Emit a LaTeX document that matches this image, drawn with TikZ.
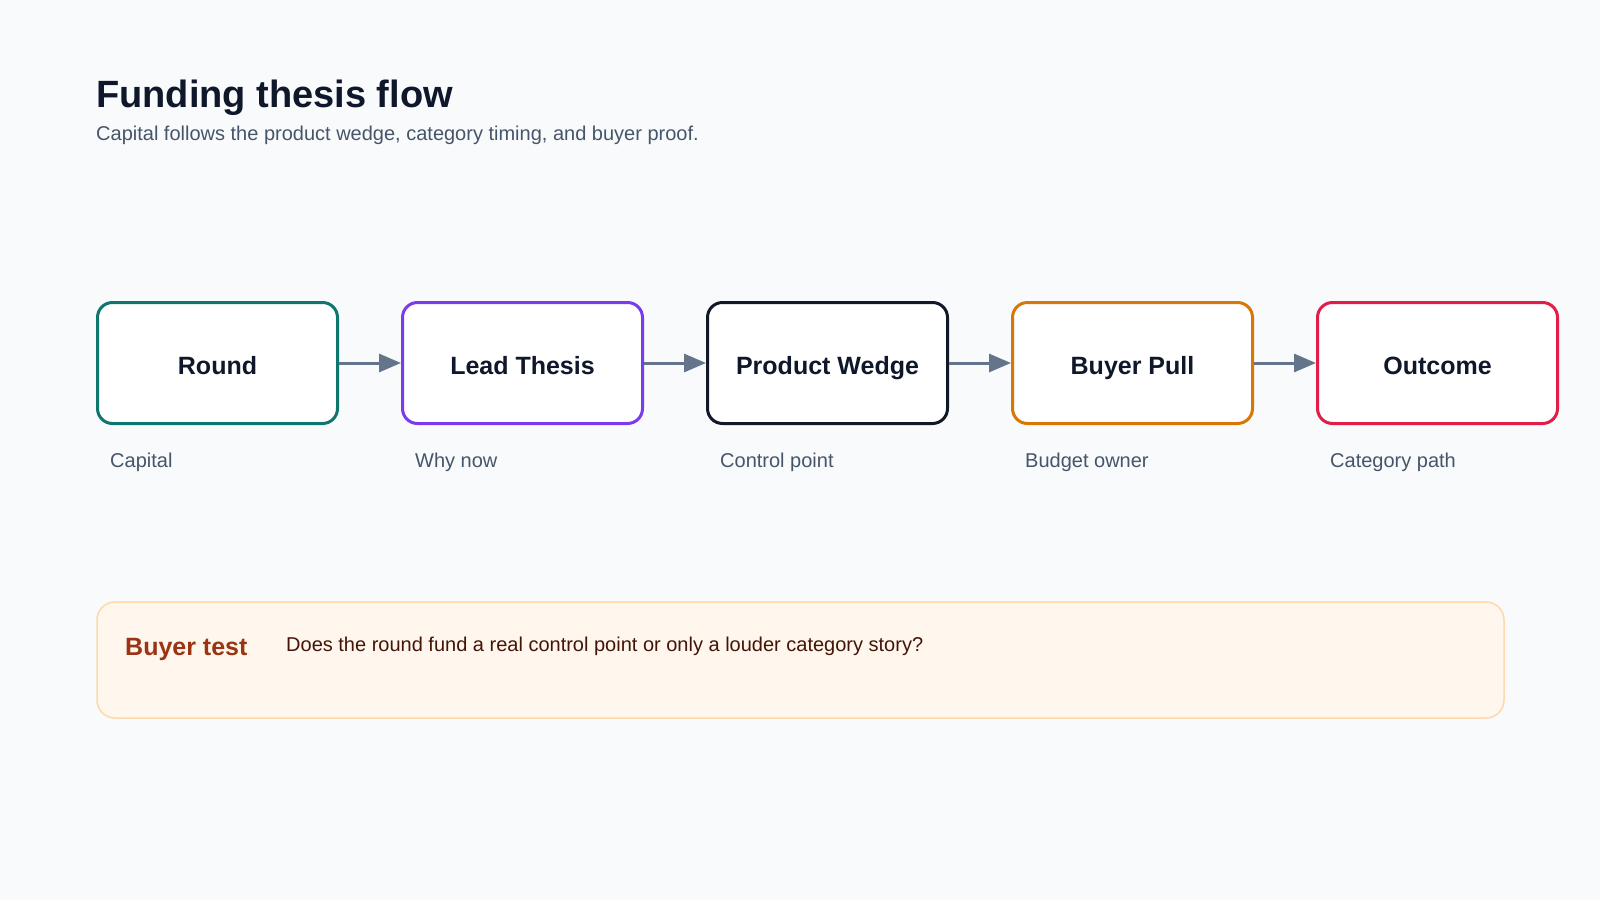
\documentclass[tikz,border=0pt]{standalone}
\usepackage{fontspec}
\setmainfont{Liberation Sans}
\usetikzlibrary{arrows.meta,positioning}

\definecolor{pagebg}{HTML}{F8FAFC}
\definecolor{inkdark}{HTML}{0F172A}
\definecolor{inksoft}{HTML}{475569}
\definecolor{arrowgray}{HTML}{64748B}
\definecolor{teal}{HTML}{0F766E}
\definecolor{violet}{HTML}{7C3AED}
\definecolor{nightink}{HTML}{111827}
\definecolor{amber}{HTML}{D97706}
\definecolor{rose}{HTML}{E11D48}
\definecolor{calloutfill}{HTML}{FFF7ED}
\definecolor{calloutline}{HTML}{FED7AA}
\definecolor{rust}{HTML}{9A3412}
\definecolor{brownink}{HTML}{431407}

\begin{document}
\begin{tikzpicture}[
    x=1pt, y=-1pt,
    node distance=62pt,
    >={Triangle[length=22pt,width=18pt]},
    stage/.style={draw, fill=white, line width=3pt, rounded corners=15pt, align=center, minimum width=240pt, minimum height=121pt, inner sep=0pt, text height=23pt, text depth=0pt, text=inkdark, font=\fontsize{25}{29}\selectfont\bfseries},
    note/.style={anchor=west, inner sep=0pt, text=inksoft, font=\fontsize{20}{24}\selectfont},
    flow/.style={->, line width=3pt, draw=arrowgray, color=arrowgray}
]

% Page
\fill[pagebg] (0,0) rectangle (1600,900);
\useasboundingbox (0,0) rectangle (1600,900);

% Heading
\node[anchor=base west, inner sep=0pt, text=inkdark, font=\fontsize{38}{43}\selectfont\bfseries] (title) at (96,107) {Funding thesis flow};
\node[anchor=base west, inner sep=0pt, text=inksoft, font=\fontsize{20}{24}\selectfont] (subtitle) at (96,140) {Capital follows the product wedge, category timing, and buyer proof.};

% Stages
\node[stage, draw=teal] (round) at (217.5,363) {Round};
\node[stage, draw=violet, right=of round] (thesis) {Lead Thesis};
\node[stage, draw=nightink, right=of thesis] (wedge) {Product Wedge};
\node[stage, draw=amber, right=of wedge] (pull) {Buyer Pull};
\node[stage, draw=rose, right=of pull] (outcome) {Outcome};

% Notes under the stages
\node[note] (capital) at ([xshift=14pt,yshift=-37pt]round.south west) {Capital};
\node[note] (whynow) at ([xshift=14pt,yshift=-37pt]thesis.south west) {Why now};
\node[note] (control) at ([xshift=14pt,yshift=-37pt]wedge.south west) {Control point};
\node[note] (budget) at ([xshift=14pt,yshift=-37pt]pull.south west) {Budget owner};
\node[note] (path) at ([xshift=14pt,yshift=-37pt]outcome.south west) {Category path};

% Arrows
\draw[flow] (round) -- (thesis);
\draw[flow] (thesis) -- (wedge);
\draw[flow] (wedge) -- (pull);
\draw[flow] (pull) -- (outcome);

% Buyer test callout
\node[draw=calloutline, fill=calloutfill, line width=1.5pt, rounded corners=18pt, minimum width=1407pt, minimum height=116pt, inner sep=0pt] (callout) at (800.5,660) {};
\node[anchor=west, inner sep=0pt, text=rust, font=\fontsize{25}{29}\selectfont\bfseries] (testlabel) at (125,649) {Buyer test};
\node[anchor=west, inner sep=0pt, text=brownink, font=\fontsize{20}{24}\selectfont] (question) at (286,646) {Does the round fund a real control point or only a louder category story?};

\end{tikzpicture}
\end{document}
